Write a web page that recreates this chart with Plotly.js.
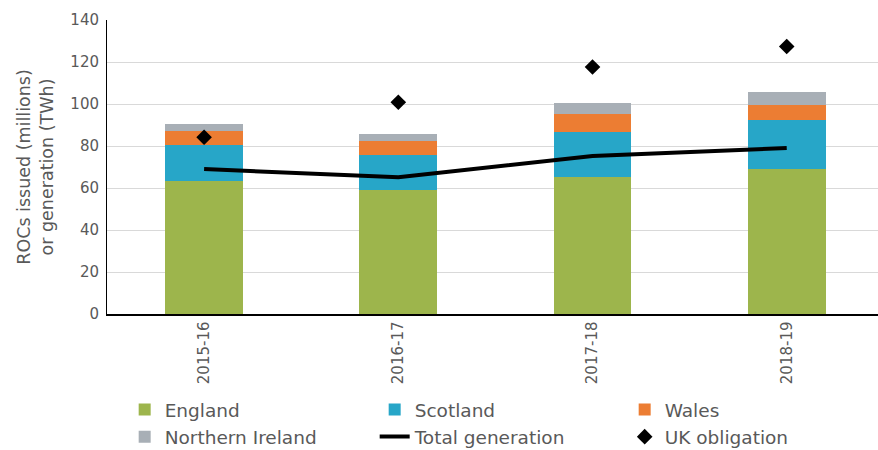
<!DOCTYPE html>
<html>
<head>
<meta charset="utf-8">
<script src="https://cdn.plot.ly/plotly-3.0.1.min.js"></script>
<style>html,body{margin:0;padding:0;background:#fff;}#chart{width:878px;height:450px;}</style>
</head>
<body>
<div id="chart"></div>
<script>
var years = ["2015-16", "2016-17", "2017-18", "2018-19"];
var england = [63.3, 58.9, 65.2, 69.0];
var scotland = [17.3, 17.0, 21.6, 23.2];
var wales = [6.5, 6.5, 8.4, 7.5];
var northernIreland = [3.2, 3.5, 5.1, 6.0];
var totalGeneration = [69.0, 65.1, 75.2, 79.0];
var ukObligation = [84.2, 100.8, 117.6, 127.4];
var yTicks = [0, 20, 40, 60, 80, 100, 120, 140];

function bar(name, y, color) {
  return {type: "bar", name: name, x: years, y: y, width: 0.4,
    marker: {color: color, line: {width: 0}}};
}
var traces = [
  bar("England", england, "#9DB54C"),
  bar("Scotland", scotland, "#27A6C8"),
  bar("Wales", wales, "#EC7D33"),
  bar("Northern Ireland", northernIreland, "#A8AFB6"),
  {type: "scatter", mode: "lines", name: "Total generation", x: years, y: totalGeneration,
    line: {color: "#000", width: 4}},
  {type: "scatter", mode: "markers", name: "UK obligation", x: years, y: ukObligation,
    marker: {color: "#000", symbol: "diamond", size: 12}}
];
var layout = {
  width: 878, height: 450,
  margin: {l: 107, r: 0, t: 20, b: 136},
  barmode: "stack",
  paper_bgcolor: "#fff", plot_bgcolor: "#fff",
  font: {family: "DejaVu Sans, Verdana, sans-serif", color: "#595959", size: 15},
  xaxis: {type: "category", range: [-0.5, 3.47], tickangle: -90, showgrid: false,
    showline: true, linecolor: "#000", linewidth: 1.5, ticks: "", tickfont: {size: 15}},
  yaxis: {range: [0, 140], tickvals: yTicks, ticktext: yTicks.map(String), showgrid: true, gridcolor: "#D9D9D9",
    gridwidth: 1, showline: true, linecolor: "#000", linewidth: 1, ticks: "", zeroline: false,
    tickfont: {size: 15}, ticklabelstandoff: 4,
    title: {text: "ROCs issued (millions)<br>or generation (TWh)", font: {size: 17.5, color: "#595959"}, standoff: 12}},
  legend: {orientation: "h", xref: "container", yref: "container", x: 0.142, xanchor: "left",
    y: 0.131, yanchor: "top", traceorder: "normal",
    entrywidth: 205, entrywidthmode: "pixels", font: {size: 18.5, color: "#595959"}, tracegroupgap: 0},
  showlegend: true
};
Plotly.newPlot("chart", traces, layout, {displayModeBar: false, staticPlot: true});
</script>
</body>
</html>
